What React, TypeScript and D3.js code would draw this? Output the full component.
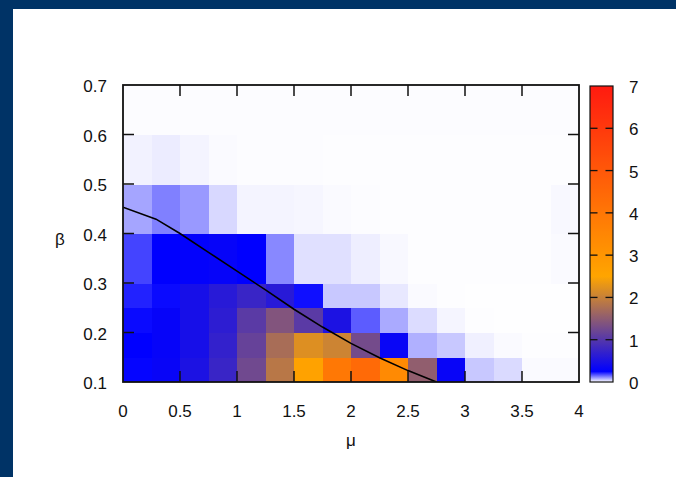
import React from "react";
import * as d3 from "d3";

// ---- data ----
const muEdges = [0, 0.25, 0.5, 0.75, 1, 1.25, 1.5, 1.75, 2, 2.25, 2.5, 2.75, 3, 3.25, 3.5, 3.75, 4];
const betaEdges = [0.1, 0.15, 0.2, 0.25, 0.3, 0.4, 0.5, 0.6, 0.7];

const zBeta010 = [0.245, 0.32, 0.5, 0.75, 1.24, 1.87, 2.6, 3.96, 4.4, 3.37, 1.53, 0.32, 0.054, 0.036, 0.005, 0.005];
const zBeta015 = [0.25, 0.3, 0.45, 0.7, 1.15, 1.73, 2.2, 2.05, 1.27, 0.33, 0.077, 0.054, 0.015, 0.005, 0.002, 0.002];
const zBeta020 = [0.24, 0.3, 0.45, 0.65, 1.04, 1.4, 1.04, 0.5, 0.16, 0.083, 0.034, 0.01, 0.002, 0.001, 0.001, 0.001];
const zBeta025 = [0.217, 0.24, 0.45, 0.6, 0.75, 0.6, 0.235, 0.054, 0.054, 0.023, 0.005, 0.002, 0.001, 0.001, 0.001, 0.001];
const zBeta030 = [0.183, 0.25, 0.28, 0.3, 0.25, 0.117, 0.03, 0.03, 0.017, 0.007, 0.002, 0.002, 0.002, 0.002, 0.002, 0.005];
const zBeta040 = [0.088, 0.125, 0.1, 0.038, 0.011, 0.011, 0.009, 0.005, 0.003, 0.002, 0.002, 0.002, 0.002, 0.002, 0.002, 0.007];
const zBeta050 = [0.013, 0.019, 0.011, 0.005, 0.003, 0.003, 0.003, 0.002, 0.002, 0.002, 0.002, 0.002, 0.002, 0.002, 0.002, 0.002];
const zBeta060 = [0.003, 0.003, 0.003, 0.003, 0.003, 0.003, 0.003, 0.003, 0.003, 0.003, 0.003, 0.003, 0.003, 0.003, 0.003, 0.003];
const zRows = [zBeta010, zBeta015, zBeta020, zBeta025, zBeta030, zBeta040, zBeta050, zBeta060];

const lineMu = [0, 0.29, 0.5, 0.75, 1.0, 1.25, 1.5, 1.75, 2.0, 2.25, 2.5, 2.75];
const lineBeta = [0.453, 0.429, 0.4, 0.362, 0.324, 0.286, 0.247, 0.211, 0.178, 0.149, 0.123, 0.1];

const xTicks = [0, 0.5, 1, 1.5, 2, 2.5, 3, 3.5, 4];
const xTickLabels = ["0", "0.5", "1", "1.5", "2", "2.5", "3", "3.5", "4"];
const yTicks = [0.1, 0.2, 0.3, 0.4, 0.5, 0.6, 0.7];
const yTickLabels = ["0.1", "0.2", "0.3", "0.4", "0.5", "0.6", "0.7"];
const cbTicks = [0, 1, 2, 3, 4, 5, 6, 7];
const cbTickLabels = ["0", "1", "2", "3", "4", "5", "6", "7"];
const paletteStops = [0, 0.25, 2.5, 7];
const paletteColors = ["#ffffff", "#0000ff", "#ffa500", "#ff1a10"];

// ---- layout ----
const W = 676, H = 477;
const P = { left: 123, right: 579, top: 85, bottom: 382 };
const CB = { x0: 590, x1: 613, top: 86, bottom: 382 };
const FONT = "'Liberation Sans', Arial, Helvetica, sans-serif";
const FS = 17;

export default function App() {
  const x = d3.scaleLinear().domain([0, 4]).range([P.left, P.right]);
  const y = d3.scaleLinear().domain([0.1, 0.7]).range([P.bottom, P.top]);
  const color = d3
    .scaleLinear<string>()
    .domain(paletteStops)
    .range(paletteColors)
    .interpolate(d3.interpolateRgb)
    .clamp(true);
  const cbY = d3.scaleLinear().domain([0, 7]).range([CB.bottom, CB.top]);

  const cells: React.ReactElement[] = [];
  zRows.forEach((row, j) => {
    row.forEach((v, i) => {
      const x0 = x(muEdges[i]);
      const x1 = x(muEdges[i + 1]);
      const y0 = y(betaEdges[j + 1]);
      const y1 = y(betaEdges[j]);
      cells.push(
        <rect
          key={`c${j}-${i}`}
          x={x0}
          y={y0}
          width={x1 - x0 + 0.5}
          height={y1 - y0 + 0.5}
          fill={color(v)}
        />
      );
    });
  });

  const line = d3
    .line<number>()
    .x((_, i) => x(lineMu[i]))
    .y((_, i) => y(lineBeta[i]));
  const linePath = line(lineMu) || "";

  const gradStops = d3.range(0, 7.0001, 0.05);
  const tickLen = 11;

  return (
    <div style={{ position: "absolute", left: 0, top: 0, width: W, height: H }}>
      <svg width={W} height={H} style={{ display: "block", background: "#ffffff" }}>
        <defs>
          <linearGradient id="cbgrad" x1="0" y1="1" x2="0" y2="0">
            {gradStops.map((v) => (
              <stop key={v} offset={v / 7} stopColor={color(v)} />
            ))}
          </linearGradient>
          <clipPath id="plotclip">
            <rect x={P.left} y={P.top} width={P.right - P.left} height={P.bottom - P.top} />
          </clipPath>
        </defs>
        <rect x={0} y={0} width={W} height={H} fill="#ffffff" />
        <rect x={0} y={0} width={W} height={9} fill="#003366" />
        <rect x={0} y={0} width={13} height={H} fill="#003366" />

        <g clipPath="url(#plotclip)" shapeRendering="crispEdges">{cells}</g>

        <path d={linePath} fill="none" stroke="#000" strokeWidth={1.6} clipPath="url(#plotclip)" />

        {/* ticks */}
        <g stroke="#111" strokeWidth={1.5}>
          {xTicks.slice(1, -1).map((t) => (
            <g key={`xt${t}`}>
              <line x1={x(t)} x2={x(t)} y1={P.bottom} y2={P.bottom - tickLen} />
              <line x1={x(t)} x2={x(t)} y1={P.top} y2={P.top + tickLen} />
            </g>
          ))}
          {yTicks.slice(1, -1).map((t) => (
            <g key={`yt${t}`}>
              <line x1={P.left} x2={P.left + tickLen} y1={y(t)} y2={y(t)} />
              <line x1={P.right} x2={P.right - tickLen} y1={y(t)} y2={y(t)} />
            </g>
          ))}
        </g>
        <rect
          x={P.left}
          y={P.top}
          width={P.right - P.left}
          height={P.bottom - P.top}
          fill="none"
          stroke="#111"
          strokeWidth={1.8}
        />

        {/* tick labels */}
        <g fontFamily={FONT} fontSize={FS} fill="#111">
          {xTicks.map((t, i) => (
            <text key={`xl${t}`} x={x(t)} y={417} textAnchor="middle">
              {xTickLabels[i]}
            </text>
          ))}
          {yTicks.map((t, i) => (
            <text key={`yl${t}`} x={107} y={y(t) + 7} textAnchor="end">
              {yTickLabels[i]}
            </text>
          ))}
          {cbTicks.map((t, i) => (
            <text key={`cl${t}`} x={629} y={cbY(t) + 7} textAnchor="start">
              {cbTickLabels[i]}
            </text>
          ))}
          <text x={(P.left + P.right) / 2} y={446} textAnchor="middle">
            μ
          </text>
          <text x={60} y={245} textAnchor="middle">
            β
          </text>
        </g>

        {/* colorbar */}
        <rect x={CB.x0} y={CB.top} width={CB.x1 - CB.x0} height={CB.bottom - CB.top} fill="url(#cbgrad)" />
        <g stroke="#111" strokeWidth={1.3}>
          {cbTicks.slice(1, -1).map((t) => (
            <g key={`cbt${t}`}>
              <line x1={CB.x0} x2={CB.x0 + 7.5} y1={cbY(t)} y2={cbY(t)} />
              <line x1={CB.x1} x2={CB.x1 - 7.5} y1={cbY(t)} y2={cbY(t)} />
            </g>
          ))}
        </g>
        <rect
          x={CB.x0}
          y={CB.top}
          width={CB.x1 - CB.x0}
          height={CB.bottom - CB.top}
          fill="none"
          stroke="#111"
          strokeWidth={1.2}
        />
      </svg>
    </div>
  );
}
